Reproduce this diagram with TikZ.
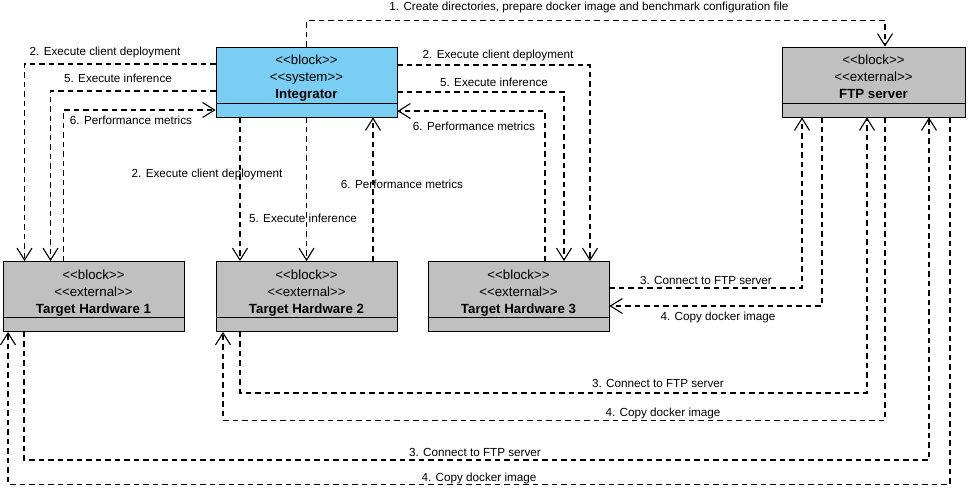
\documentclass[tikz,border=0pt]{standalone}
\usepackage{fontspec}
\setmainfont{Liberation Sans}
\usetikzlibrary{arrows.meta}
\definecolor{sysblue}{RGB}{122,206,244}
\definecolor{extgray}{RGB}{192,192,192}
\newcommand\stereo[1]{<\kern0pt<#1>\kern0pt>}
\begin{document}
\begin{tikzpicture}[x=1pt,y=-1pt,
    block/.style={draw,line width=0.8pt,minimum width=181pt,inner sep=0pt,
      align=center,text height=52pt,text depth=18pt,
      font=\fontsize{13.3}{17}\selectfont,
      path picture={\draw[line width=0.8pt]
        ([yshift=14pt]path picture bounding box.south west) --
        ([yshift=14pt]path picture bounding box.south east);}},
    flow/.style={line width=1.7pt,dash pattern=on 5.5pt off 4pt,
      -{Straight Barb[length=12pt,width=15pt,line width=1.1pt]}},
    msg/.style={font=\fontsize{11.7}{13}\selectfont,inner sep=0pt,
      text height=8.5pt,text depth=2.5pt}]
    \useasboundingbox (0,0) rectangle (970,489);
    \node[block,fill=sysblue] (integr) at (306.5,82)
      {\stereo{block}\\\stereo{system}\\\textbf{Integrator}};
    \node[block,fill=extgray,minimum width=183pt] (ftp) at (873.5,82)
      {\stereo{block}\\\stereo{external}\\\textbf{FTP server}};
    \foreach \i/\x in {1/93.5,2/306.5,3/518.5}
    \node[block,fill=extgray] (th\i) at (\x,296.5)
      {\stereo{block}\\\stereo{external}\\\textbf{Target Hardware \i}};
    % 1: integrator to FTP server
    \draw[flow] (integr.north) -- ++(0,-26) -| ([xshift=11.5pt]ftp.north);
    \node[msg] (create) at (589,8) {1. Create directories, prepare docker image and benchmark configuration file};
    % integrator <-> target hardware 1
    \draw[flow] ([yshift=18pt]integr.west) -| ([xshift=-69pt]th1.north);
    \draw[flow] ([yshift=-9pt]integr.west) -| ([xshift=-43pt]th1.north);
    \draw[flow] ([xshift=-30pt]th1.north) |- ([yshift=-28pt]integr.west);
    \node[msg] (deploya) at (105,53) {2. Execute client deployment};
    \node[msg] (infera) at (118,80) {5. Execute inference};
    \node[msg] (perfa) at (131,122) {6. Performance metrics};
    % integrator <-> target hardware 2
    \draw[flow] ([xshift=-66.5pt]integr.south) -- ([xshift=-66.5pt]th2.north);
    \draw[flow] (integr.south) -- (th2.north);
    \draw[flow] ([xshift=66.5pt]th2.north) -- ([xshift=66.5pt]integr.south);
    \node[msg] (deployb) at (207,175) {2. Execute client deployment};
    \node[msg] (inferb) at (303,220) {5. Execute inference};
    \node[msg] (perfb) at (402,186) {6. Performance metrics};
    % integrator <-> target hardware 3
    \draw[flow] ([yshift=17pt]integr.east) -| ([xshift=71.5pt]th3.north);
    \draw[flow] ([yshift=-10pt]integr.east) -| ([xshift=45.5pt]th3.north);
    \draw[flow] ([xshift=26.5pt]th3.north) |- ([yshift=-29pt]integr.east);
    \node[msg] (deployc) at (498,56) {2. Execute client deployment};
    \node[msg] (inferc) at (494,84) {5. Execute inference};
    \node[msg] (perfc) at (474,128) {6. Performance metrics};
    % FTP server <-> target hardware
    \draw[flow] ([yshift=8.5pt]th3.east) -| ([xshift=-71.5pt]ftp.south);
    \draw[flow] ([xshift=-51.5pt]ftp.south) |- ([yshift=-9.5pt]th3.east);
    \draw[flow] ([xshift=-66.5pt]th2.south) -- ++(0,61) -| ([xshift=-6.5pt]ftp.south);
    \draw[flow] ([xshift=11.5pt]ftp.south) -- ++(0,303) -| ([xshift=-83.5pt]th2.south);
    \draw[flow] ([xshift=-69.5pt]th1.south) -- ++(0,128) -| ([xshift=55.5pt]ftp.south);
    \draw[flow] ([xshift=76.5pt]ftp.south) -- ++(0,367) -| ([xshift=-85.5pt]th1.south);
    \node[msg] (connc) at (706,282) {3. Connect to FTP server};
    \node[msg] (copyc) at (718,317) {4. Copy docker image};
    \node[msg] (connb) at (658,384) {3. Connect to FTP server};
    \node[msg] (copyb) at (663,413) {4. Copy docker image};
    \node[msg] (conna) at (475,453) {3. Connect to FTP server};
    \node[msg] (copya) at (479,478) {4. Copy docker image};
\end{tikzpicture}
\end{document}
